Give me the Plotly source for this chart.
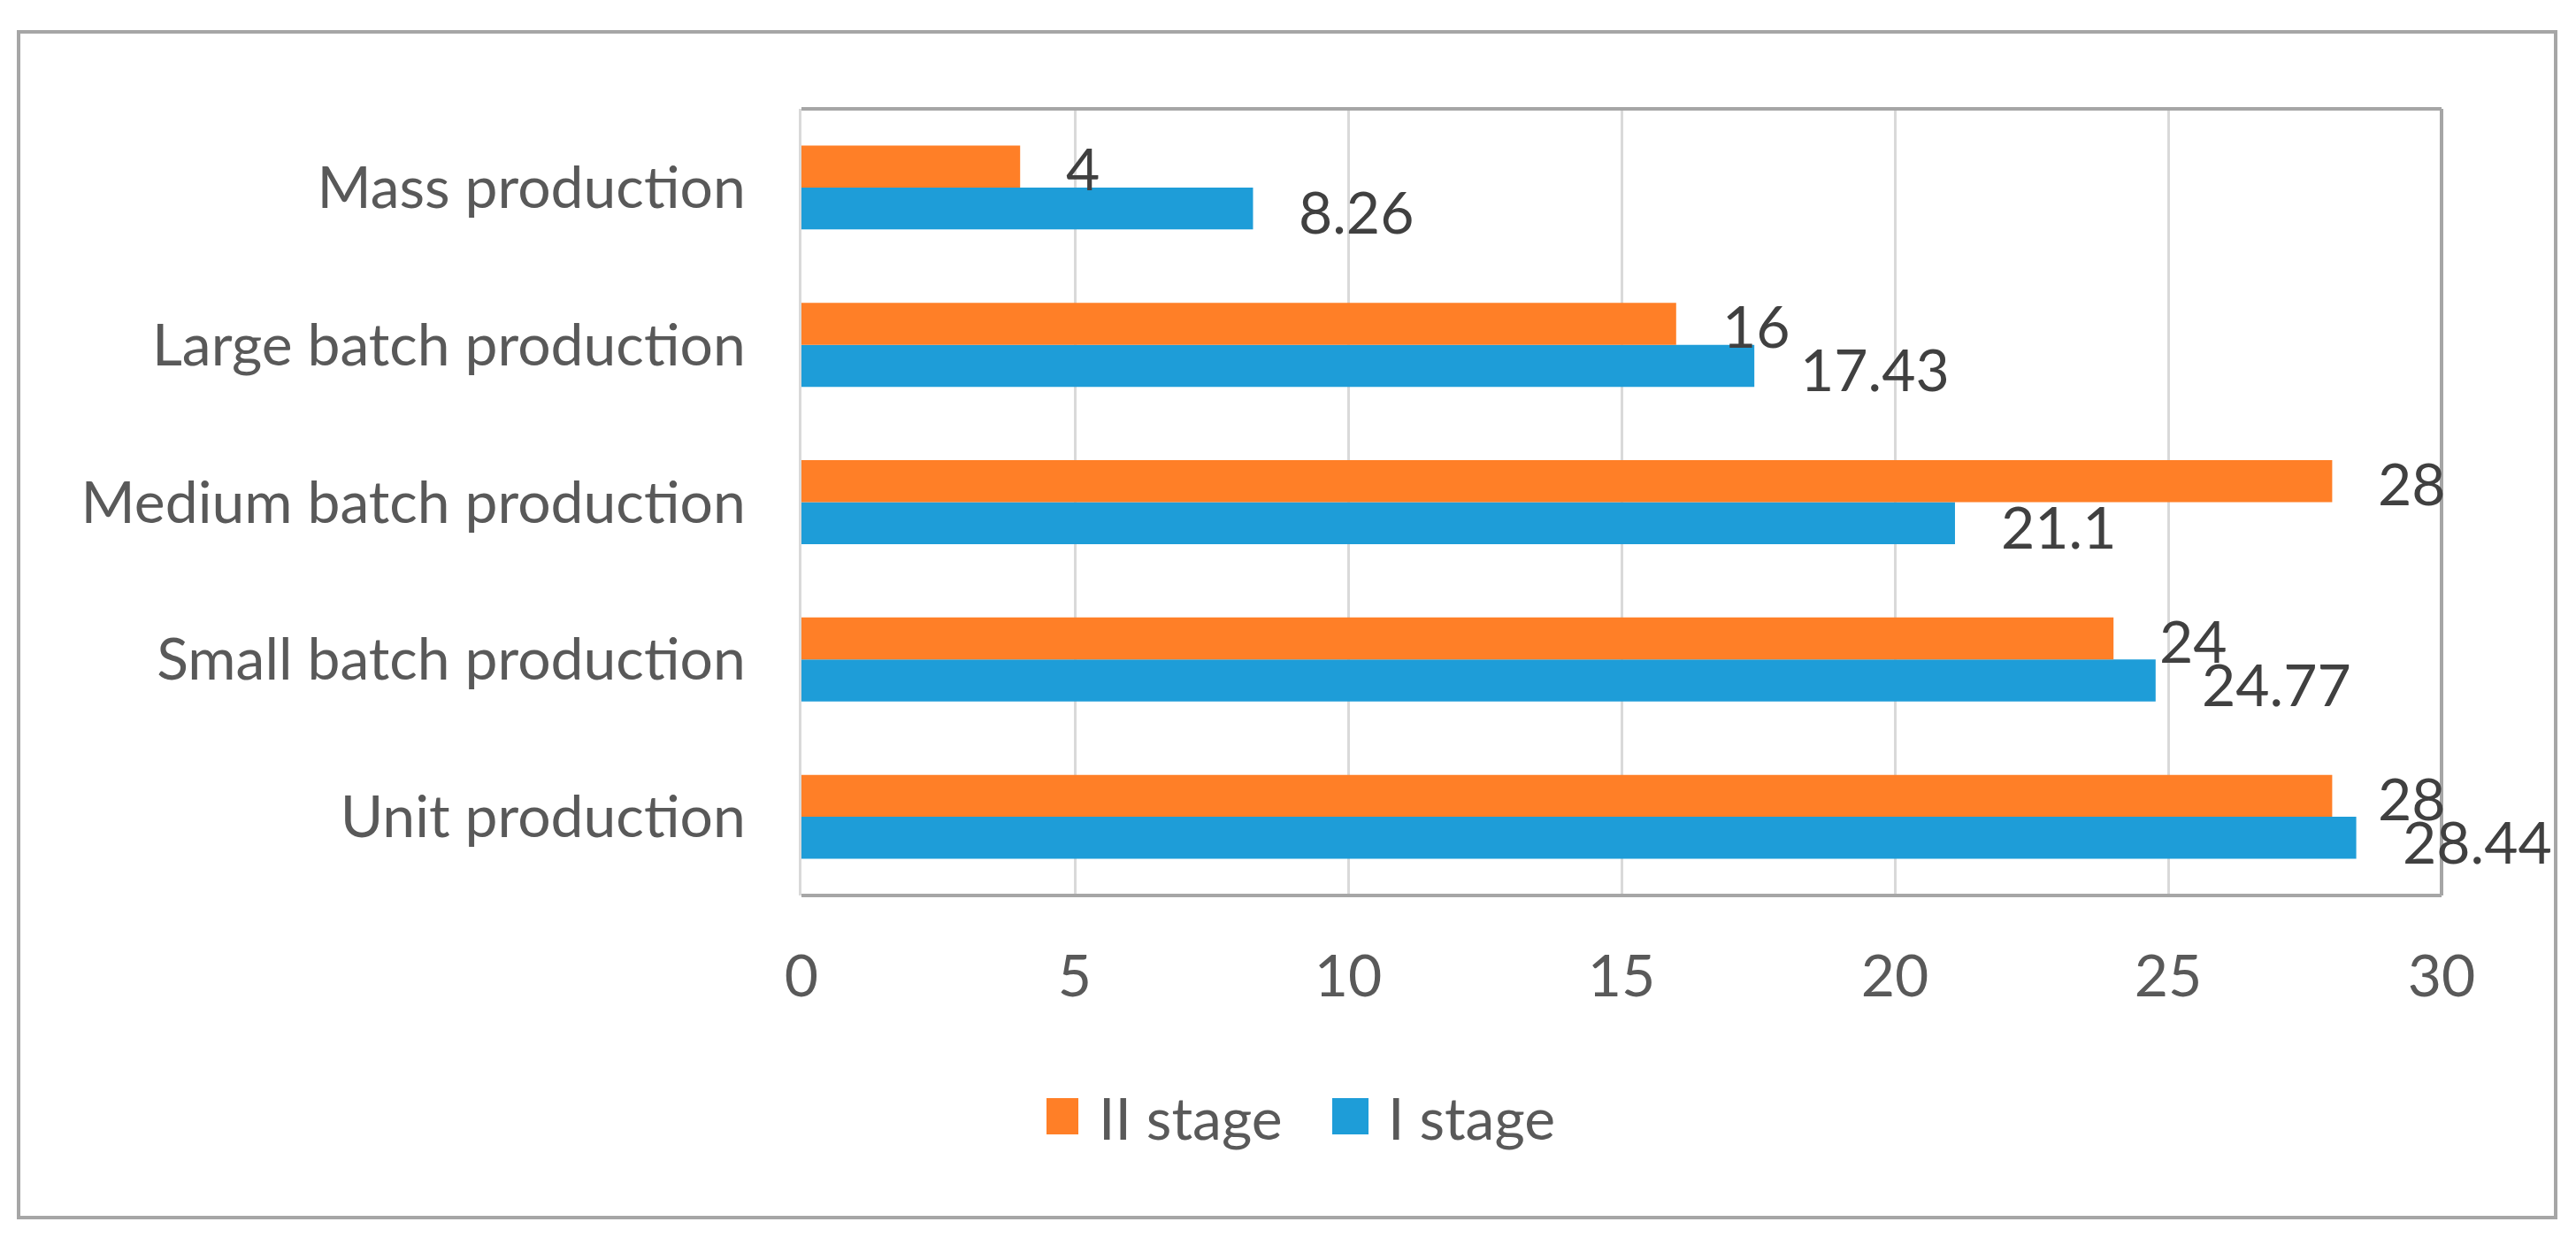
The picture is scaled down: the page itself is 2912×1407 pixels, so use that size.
import plotly.graph_objects as go

# ---- data ----
categories = ["Unit production", "Small batch production", "Medium batch production",
              "Large batch production", "Mass production"]
stage1 = [28.44, 24.77, 21.1, 17.43, 8.26]   # I stage
stage2 = [28, 24, 28, 16, 4]                 # II stage
stage1_labels = ["28.44", "24.77", "21.1", "17.43", "8.26"]
stage2_labels = ["28", "24", "28", "16", "4"]
x_ticks = [0, 5, 10, 15, 20, 25, 30]

# ---- styling ----
W, H = 2912, 1407
OFF = 8                                    # default body margin of the html page
PL, PR, PT, PB = 906, 2760, 123, 1012      # plot area in page pixels
FONT = "Lato"
FS = 66
TXT = "#595959"
LBL = "#404040"
ORANGE = "#FF7F27"
BLUE = "#1E9DD8"
GRID = "#D9D9D9"
BORDER = "#A6A6A6"


def px(xp):
    return (xp - PL) / (PR - PL)


def py(yp):
    return (PB - yp) / (PB - PT)


fig = go.Figure()
fig.add_bar(y=categories, x=stage1, orientation="h", name="I stage",
            marker=dict(color=BLUE, line=dict(width=0)), showlegend=False)
fig.add_bar(y=categories, x=stage2, orientation="h", name="II stage",
            marker=dict(color=ORANGE, line=dict(width=0)), showlegend=False)

annotations = []
for cat, v, t in zip(categories, stage2, stage2_labels):
    annotations.append(dict(x=v, y=cat, xref="x", yref="y", text=t, showarrow=False,
                            xanchor="left", yanchor="middle", xshift=50, yshift=22,
                            font=dict(family=FONT, size=FS, color=LBL)))
for cat, v, t in zip(categories, stage1, stage1_labels):
    annotations.append(dict(x=v, y=cat, xref="x", yref="y", text=t, showarrow=False,
                            xanchor="left", yanchor="middle", xshift=50, yshift=-27,
                            font=dict(family=FONT, size=FS, color=LBL)))

# legend (drawn manually to match swatch size)
legend_items = [("II stage", ORANGE, 1183, 1219, 1240), ("I stage", BLUE, 1506, 1547, 1567)]
shapes = []
for name, col, sx0, sx1, tx in legend_items:
    shapes.append(dict(type="rect", xref="paper", yref="paper",
                       x0=px(sx0), x1=px(sx1), y0=py(1282), y1=py(1241),
                       fillcolor=col, line=dict(width=0)))
    annotations.append(dict(x=px(tx), y=py(1262), xref="paper", yref="paper", text=name,
                            showarrow=False, xanchor="left", yanchor="middle",
                            font=dict(family=FONT, size=FS, color=TXT)))

# plot-area border (top, right, bottom)
for x0, y0, x1, y1 in [(0, 1, 1, 1), (1, 0, 1, 1), (0, 0, 1, 0)]:
    shapes.append(dict(type="line", xref="paper", yref="paper", x0=x0, y0=y0, x1=x1, y1=y1,
                       line=dict(color=BORDER, width=4)))
# outer chart border
shapes.append(dict(type="rect", xref="paper", yref="paper",
                   x0=px(21), x1=px(2889), y0=py(1376), y1=py(36),
                   line=dict(color=BORDER, width=4), fillcolor="rgba(0,0,0,0)"))

fig.update_layout(
    width=W - 2 * OFF, height=H - 2 * OFF, autosize=False,
    margin=dict(l=PL - OFF, r=W - OFF - PR, t=PT - OFF, b=H - OFF - PB, pad=0),
    paper_bgcolor="white", plot_bgcolor="white",
    barmode="group", bargap=0.466, bargroupgap=0,
    font=dict(family=FONT, size=FS, color=TXT),
    xaxis=dict(range=[0, 30], tickvals=x_ticks, ticktext=[str(t) for t in x_ticks],
               showgrid=True, gridcolor=GRID, gridwidth=3, zeroline=False, showline=False,
               ticks="", ticklabelstandoff=47,
               tickfont=dict(family=FONT, size=FS, color=TXT)),
    yaxis=dict(categoryorder="array", categoryarray=categories,
               showgrid=False, zeroline=False, showline=True, linecolor=GRID, linewidth=3,
               ticks="", ticklabelstandoff=47,
               tickfont=dict(family=FONT, size=FS, color=TXT)),
    shapes=shapes, annotations=annotations,
)

fig.write_html("out.html")
